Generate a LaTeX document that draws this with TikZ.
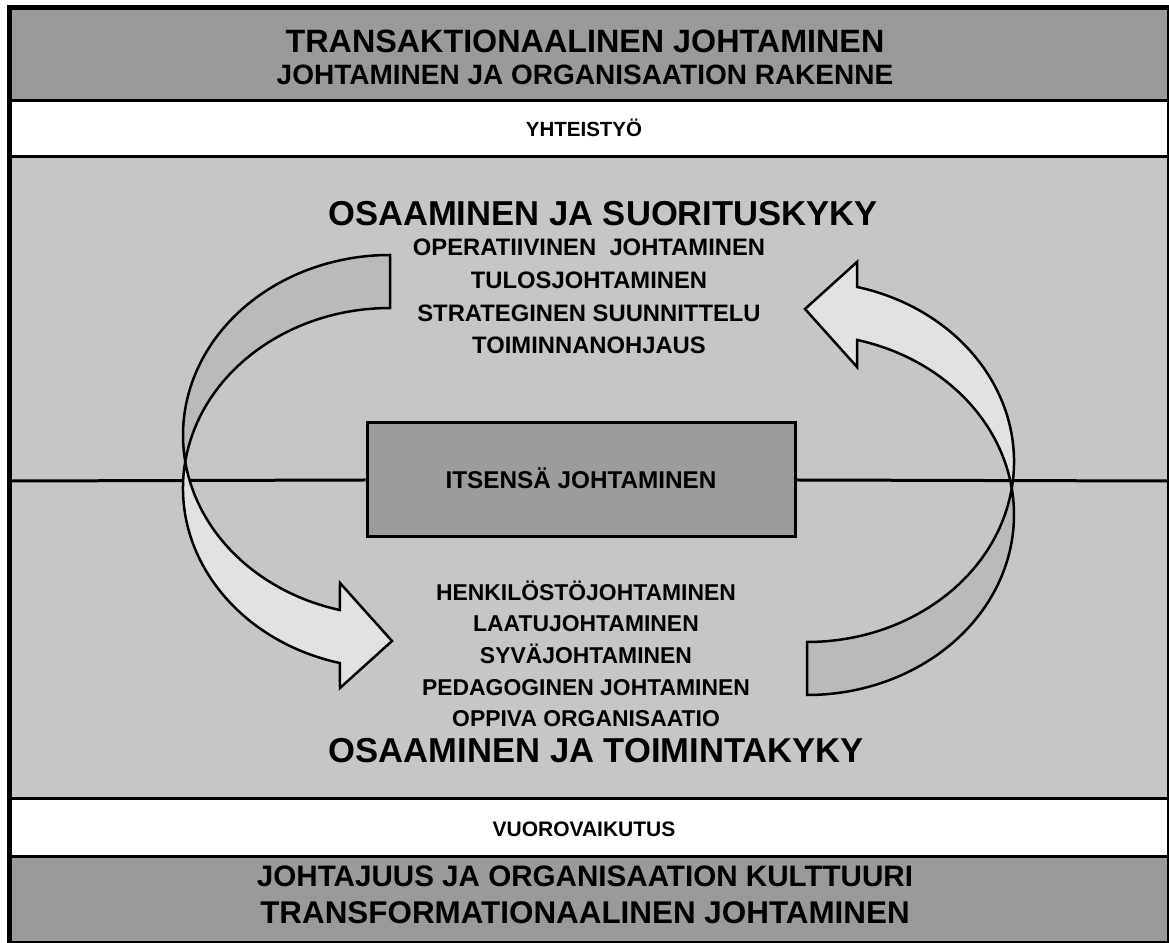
\documentclass[tikz,border=0pt]{standalone}
\usepackage{fontspec}
\setmainfont{Liberation Sans}
\definecolor{bandgray}{HTML}{9A9A9A}
\definecolor{fieldgray}{HTML}{C6C6C6}
\definecolor{boxgray}{HTML}{9C9C9C}
\definecolor{tailgray}{HTML}{BABABA}
\definecolor{headgray}{HTML}{E2E2E2}
\begin{document}
\begin{tikzpicture}[x=1pt,y=1pt,
  lbl/.style={inner sep=0pt, anchor=base},
  sized/.style={lbl, font=\fontsize{#1}{#1}\selectfont\bfseries},
  sepline/.style={line width=3pt},
  outline/.style={draw=black, line width=2.5pt, line join=miter},
  bentarrow/.pic={
    % back part of the band (tail end)
    \filldraw[outline, fill=tailgray]
      (390,687) arc[start angle=90, end angle=188.46, x radius=207, y radius=180.2]
      arc[start angle=171.54, end angle=90, x radius=207, y radius=180.2] -- cycle;
    % front part of the band with the arrow head
    \filldraw[outline, fill=headgray]
      (185.25,480.3) arc[start angle=188.46, end angle=256, x radius=207, y radius=180.2]
      -- (340,359) -- (392,301) -- (340,254) -- (339.9,278.95)
      arc[start angle=256, end angle=171.54, x radius=207, y radius=180.2] -- cycle;
  }]
\useasboundingbox (0,0) rectangle (1169,942);
\clip (0,0) rectangle (1169,942);
\fill[white] (0,0) rectangle (1169,942);

% horizontal bands
\fill[bandgray]  (9.5,842)  rectangle (1169.5,934.5);
\fill[white]     (9.5,785)  rectangle (1169.5,842);
\fill[fieldgray] (9.5,143)  rectangle (1169.5,785);
\fill[white]     (9.5,85.5) rectangle (1169.5,143);
\fill[bandgray]  (9.5,-1.5) rectangle (1169.5,85.5);
\draw[sepline] (9.5,841.5) -- (1169.5,841.5);
\draw[sepline] (9.5,785)   -- (1169.5,785);
\draw[sepline] (9.5,143)   -- (1169.5,143);
\draw[sepline] (9.5,85.5)  -- (1169.5,85.5);
\draw[line width=5pt] (9.5,-1.5) rectangle (1169.5,934.5);

% band texts
\node[sized=32.3] (ttop) at (585,889.4) {TRANSAKTIONAALINEN JOHTAMINEN};
\node[sized=28]   (stop) at (585,857.0) {JOHTAMINEN JA ORGANISAATION RAKENNE};
\node[sized=20.5] (yht)  at (584,805.7) {YHTEISTYÖ};
\node[sized=21]   (vuo)  at (584,105.5) {VUOROVAIKUTUS};
\node[sized=29.6] (sbot) at (585,55.4)  {JOHTAJUUS JA ORGANISAATION KULTTUURI};
\node[sized=31.4] (tbot) at (585,18.8)  {TRANSFORMATIONAALINEN JOHTAMINEN};

% axis line and central box
\coordinate (axl) at (12,461);
\coordinate (axr) at (1167,461);
\node[draw=black, line width=3pt, fill=boxgray, minimum width=428pt, minimum height=114pt,
      inner sep=0pt] (self) at (581,462) {};
\draw[line width=3pt] (axl) -- (self.west);
\draw[line width=3pt] (self.east) -- (axr);

% the two bent arrows
\pic at (0,0) {bentarrow};
\pic[rotate=180] at (1197,934) {bentarrow};

\node[sized=24.3] (selftxt) at (581,453.3) {ITSENSÄ JOHTAMINEN};

% upper text block
\node[sized=34.6] (hup) at (603,716.6) {OSAAMINEN JA SUORITUSKYKY};
\node[sized=23.8] (u1) at (589,686.5) {OPERATIIVINEN\ \ JOHTAMINEN};
\node[sized=23.8] (u2) at (589,653.5) {TULOSJOHTAMINEN};
\node[sized=23.8] (u3) at (589,620.5) {STRATEGINEN SUUNNITTELU};
\node[sized=23.8] (u4) at (589,588.5) {TOIMINNANOHJAUS};

% lower text block
\node[sized=22.9] (d1) at (586,341.8) {HENKILÖSTÖJOHTAMINEN};
\node[sized=22.9] (d2) at (586,310.8) {LAATUJOHTAMINEN};
\node[sized=22.9] (d3) at (586,278.8) {SYVÄJOHTAMINEN};
\node[sized=22.9] (d4) at (586,246.8) {PEDAGOGINEN JOHTAMINEN};
\node[sized=22.9] (d5) at (586,215.8) {OPPIVA ORGANISAATIO};
\node[sized=34.6] (hdn) at (596.5,179.6) {OSAAMINEN JA TOIMINTAKYKY};
\end{tikzpicture}
\end{document}
